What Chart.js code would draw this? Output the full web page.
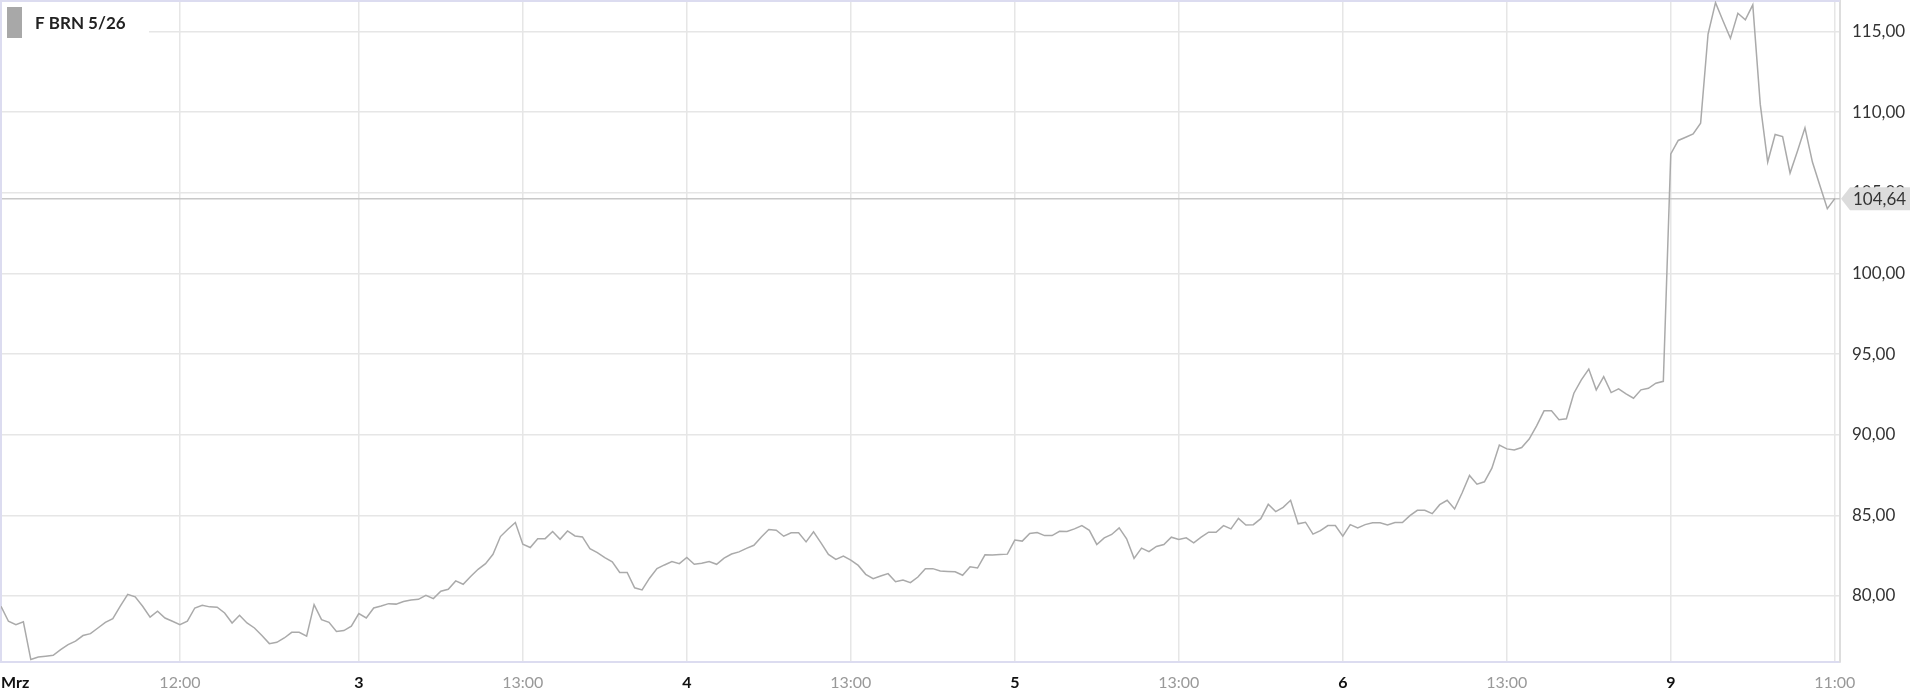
<!doctype html>
<html>
<head>
<meta charset="utf-8">
<script src="https://cdn.jsdelivr.net/npm/chart.js@4.4.1/dist/chart.umd.min.js"></script>
<style>
    html, body { margin: 0; padding: 0; background: #fff; }
    .wrap { width: 1920px; height: 700px; position: relative; }
</style>
<script>
    const seriesName = 'F BRN 5/26';

    // one value per bar
    const prices = [
        79.36, 78.43, 78.22, 78.39, 76.05, 76.21, 76.26, 76.32, 76.67, 76.98,
        77.19, 77.54, 77.66, 78.01, 78.36, 78.59, 79.36, 80.10, 79.94, 79.36,
        78.68, 79.05, 78.63, 78.43, 78.22, 78.43, 79.25, 79.42, 79.32, 79.30,
        78.94, 78.32, 78.80, 78.32, 78.01, 77.54, 77.04, 77.12, 77.39, 77.74,
        77.74, 77.50, 79.46, 78.53, 78.36, 77.79, 77.85, 78.12, 78.90, 78.63,
        79.25, 79.37, 79.52, 79.49, 79.65, 79.75, 79.79, 80.04, 79.83, 80.29,
        80.41, 80.93, 80.72, 81.20, 81.65, 82.00, 82.58, 83.68, 84.13, 84.55,
        83.20, 83.00, 83.55, 83.55, 83.99, 83.51, 84.03, 83.72, 83.66, 82.93,
        82.69, 82.38, 82.11, 81.45, 81.45, 80.50, 80.37, 81.10, 81.69, 81.92,
        82.13, 82.00, 82.38, 81.96, 82.03, 82.13, 81.96, 82.34, 82.60, 82.73,
        82.95, 83.14, 83.66, 84.12, 84.07, 83.70, 83.91, 83.91, 83.35, 83.97,
        83.29, 82.57, 82.26, 82.47, 82.22, 81.89, 81.34, 81.07, 81.23, 81.38,
        80.88, 80.99, 80.82, 81.17, 81.69, 81.69, 81.54, 81.52, 81.50, 81.28,
        81.81, 81.73, 82.55, 82.53, 82.57, 82.59, 83.46, 83.40, 83.87, 83.93,
        83.74, 83.74, 84.01, 83.99, 84.16, 84.36, 84.07, 83.19, 83.60, 83.81,
        84.22, 83.54, 82.33, 82.96, 82.75, 83.07, 83.19, 83.64, 83.50, 83.60,
        83.29, 83.64, 83.95, 83.95, 84.36, 84.16, 84.81, 84.40, 84.42, 84.79,
        85.68, 85.23, 85.49, 85.93, 84.47, 84.57, 83.83, 84.05, 84.36, 84.36,
        83.70, 84.42, 84.22, 84.42, 84.53, 84.53, 84.40, 84.55, 84.55, 84.98,
        85.31, 85.31, 85.10, 85.66, 85.93, 85.39, 86.38, 87.47, 86.93, 87.08,
        87.92, 89.36, 89.12, 89.05, 89.20, 89.73, 90.55, 91.48, 91.48, 90.93,
        90.99, 92.57, 93.40, 94.07, 92.78, 93.60, 92.61, 92.84, 92.53, 92.26,
        92.78, 92.88, 93.19, 93.31, 107.42, 108.25, 108.45, 108.66, 109.32, 114.85,
        116.80, 115.67, 114.58, 116.14, 115.73, 116.66, 110.50, 106.91, 108.62, 108.49,
        106.23, 107.60, 109.03, 106.91, 105.46, 104.02, 104.64
    ];

    // x axis labels and the bar index they sit on
    const tickIdx    = [0,     24,      48,  70,      92,  114,     136, 158,     180, 202,     224, 246];
    const tickLabels = ['Mrz', '12:00', '3', '13:00', '4', '13:00', '5', '13:00', '6', '13:00', '9', '11:00'];
    const dayTicks   = ['Mrz', '3', '4', '5', '6', '9'];

    const yMin = 75.9;
    const yMax = 116.9;
    const xMax = 246.7;

    const lastPrice = prices[prices.length - 1];
    const fmt = v => v.toFixed(2).replace('.', ',');
</script>
</head>
<body>
<div class="wrap"><canvas id="chart"></canvas></div>
<script>
    const overlay = {
        id: 'overlay',
        beforeDatasetsDraw(chart) {
            const { ctx, chartArea: a, scales } = chart;
            const py = scales.y.getPixelForValue(lastPrice);
            ctx.save();
            // last price line
            ctx.strokeStyle = '#c8c8c8';
            ctx.lineWidth = 1.5;
            ctx.beginPath();
            ctx.moveTo(a.left, py);
            ctx.lineTo(a.right, py);
            ctx.stroke();
            // frame top + left
            ctx.strokeStyle = '#dcdcf0';
            ctx.lineWidth = 2;
            ctx.beginPath();
            ctx.moveTo(a.right, a.top);
            ctx.lineTo(a.left, a.top);
            ctx.lineTo(a.left, a.bottom);
            ctx.stroke();
            ctx.restore();
        },
        afterDraw(chart) {
            const { ctx, chartArea: a, scales } = chart;
            const py = scales.y.getPixelForValue(lastPrice);
            ctx.save();
            // legend box
            ctx.fillStyle = '#fff';
            ctx.fillRect(a.left + 1, a.top + 1, 147, 42);
            ctx.fillStyle = '#a8a8a8';
            ctx.fillRect(7, 7, 15, 31);
            ctx.fillStyle = '#222';
            ctx.font = 'bold 17px Lato';
            ctx.textBaseline = 'middle';
            ctx.textAlign = 'left';
            ctx.fillText(chart.data.datasets[0].label, 35, 24);
            // price tag
            const x0 = a.right + 1;
            ctx.fillStyle = '#dcdcdc';
            ctx.beginPath();
            ctx.moveTo(x0, py);
            ctx.lineTo(x0 + 9, py - 11.5);
            ctx.lineTo(1910, py - 11.5);
            ctx.lineTo(1910, py + 11.5);
            ctx.lineTo(x0 + 9, py + 11.5);
            ctx.closePath();
            ctx.fill();
            ctx.fillStyle = '#333';
            ctx.font = '17px Lato';
            ctx.fillText(fmt(lastPrice), a.right + 13, py + 1);
            ctx.restore();
        }
    };

    const config = {
        type: 'line',
        data: {
            datasets: [{
                label: seriesName,
                data: prices.map((v, i) => ({ x: i, y: v })),
                borderColor: '#aaaaaa',
                borderWidth: 1.5,
                pointRadius: 0,
                tension: 0
            }]
        },
        options: {
            responsive: true,
            maintainAspectRatio: false,
            animation: false,
            layout: { padding: { left: 1, top: 1, right: 0, bottom: 0 } },
            plugins: {
                legend: { display: false },
                tooltip: { enabled: false }
            },
            scales: {
                x: {
                    type: 'linear',
                    min: 0,
                    max: xMax,
                    afterBuildTicks: s => {
                        s.ticks = tickIdx.map(v => ({ value: v })).concat([{ value: xMax }]);
                    },
                    afterFit: s => {
                        s.height = 38;
                        s.paddingLeft = 0;
                        s.paddingRight = 0;
                    },
                    grid: { color: '#e6e6e6', lineWidth: 1.5, drawTicks: false },
                    border: { color: '#dcdcf0', width: 2 },
                    ticks: {
                        autoSkip: false,
                        maxRotation: 0,
                        align: 'inner',
                        padding: 11,
                        callback: (v) => {
                            const k = tickIdx.indexOf(v);
                            return k < 0 ? '' : tickLabels[k];
                        },
                        color: c => dayTicks.includes(tickLabels[c.index]) ? '#111' : '#999',
                        font: c => ({
                            family: 'Lato',
                            size: 16,
                            weight: dayTicks.includes(tickLabels[c.index]) ? 'bold' : 'normal'
                        })
                    }
                },
                y: {
                    position: 'right',
                    min: yMin,
                    max: yMax,
                    afterFit: s => {
                        s.width = 80;
                        s.paddingTop = 0;
                        s.paddingBottom = 0;
                    },
                    grid: { color: '#e6e6e6', lineWidth: 1.5, drawTicks: false },
                    border: { color: '#dddddd', width: 2 },
                    ticks: {
                        stepSize: 5,
                        includeBounds: false,
                        padding: 12,
                        color: '#333',
                        font: { family: 'Lato', size: 17 },
                        callback: v => fmt(v)
                    }
                }
            }
        },
        plugins: [overlay]
    };

    const chart = new Chart(document.getElementById('chart').getContext('2d'), config);
</script>
</body>
</html>
